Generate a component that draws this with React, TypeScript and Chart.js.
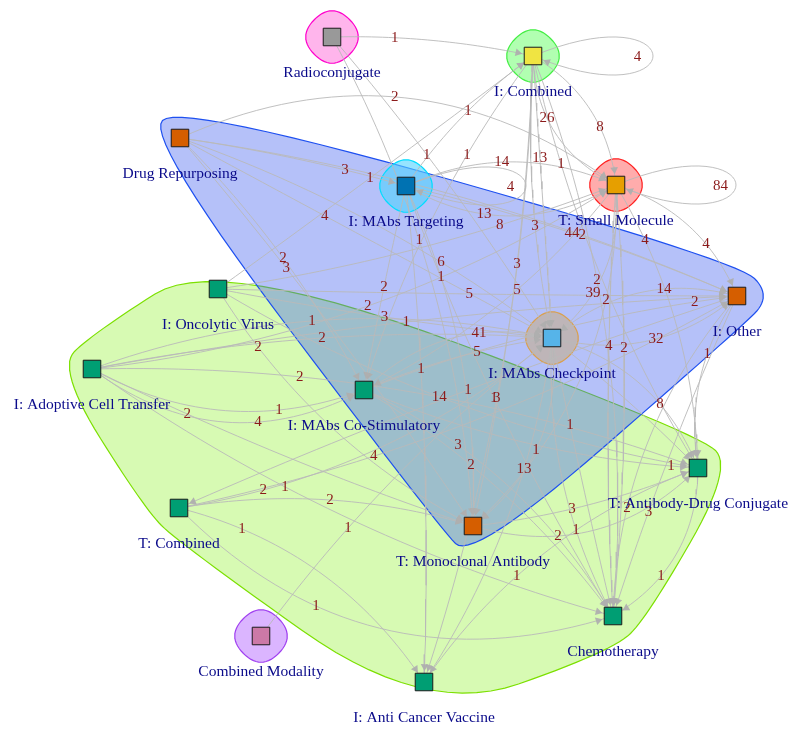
import React, { useEffect, useRef } from "react";
import { Chart, registerables } from "chart.js";

Chart.register(...registerables);

// ---------------- data ----------------
const nodeNames = [
  "Radioconjugate", "I: Combined", "Drug Repurposing", "I: MAbs Targeting",
  "T: Small Molecule", "I: Other", "I: Oncolytic Virus", "I: MAbs Checkpoint",
  "I: Adoptive Cell Transfer", "I: MAbs Co-Stimulatory", "T: Antibody-Drug Conjugate",
  "T: Combined", "T: Monoclonal Antibody", "Chemotherapy", "Combined Modality",
  "I: Anti Cancer Vaccine",
];
// layout coordinates of the nodes
const nodeX = [332, 533, 180, 406, 616, 737, 218, 552, 92, 364, 698, 179, 473, 613, 261, 424];
const nodeY = [37, 56, 138, 186, 185, 296, 289, 338, 369, 390, 468, 508, 526, 616, 636, 682];

const edgeFrom = [
  0, 2, 3, 1, 1, 0, 1, 3, 1, 1,
  2, 6, 2, 3, 6, 1, 3, 2, 4, 4,
  0, 2, 2, 2, 3, 1, 1, 4, 4, 7,
  9, 3, 6, 4, 8, 6, 8, 8, 8, 9,
  9, 4, 4, 7, 5, 6, 8, 3, 8, 8,
  8, 6, 5, 3, 1, 7, 7, 9, 7, 9,
  7, 11, 9, 11, 8, 11, 12, 7, 12, 5,
  5, 11, 14, 15, 10, 11,
  1, 4, 3,
];
const edgeTo = [
  1, 4, 1, 4, 4, 7, 9, 4, 7, 10,
  3, 1, 7, 4, 4, 7, 5, 5, 10, 5,
  12, 9, 12, 10, 12, 12, 13, 7, 12, 5,
  5, 9, 5, 9, 4, 7, 5, 7, 7, 7,
  7, 13, 13, 5, 10, 12, 10, 15, 9, 9,
  12, 10, 11, 13, 15, 10, 13, 13, 12, 13,
  15, 5, 10, 7, 13, 12, 10, 13, 10, 13,
  13, 15, 7, 10, 13, 13,
  1, 4, 3,
];
const edgeWeight = [
  1, 2, 1, 26, 8, 1, 1, 14, 13, 1,
  3, 1, 4, 13, 8, 3, 44, 2, 4, 4,
  1, 2, 3, 6, 1, 3, 2, 39, 2, 14,
  2, 2, 5, 5, 2, 3, 1, 1, 2, 41,
  5, 4, 2, 32, 1, 2, 2, 1, 1, 4,
  2, 14, 1, 1, 3, 8, 1, 3, 1, 2,
  13, 4, 1, 2, 1, 2, 3, 1, 2, 2,
  3, 1, 1, 1, 1, 1,
  4, 84, 4,
];

const groupBlue = [2, 5, 12];
const groupGreen = [6, 8, 9, 10, 11, 13, 15];
const singleGroups = [0, 1, 3, 4, 7, 14];

// ---------------- styles ----------------
const edgeBend = [
  0.06, 0.292, 0.089, -0.299, 0.249, 0.039, -0.088, 0.225, 0, -0.085,
  0.033, -0.006, 0, -0.29, -0.055, -0.069, 0.044, 0.069, 0.129, 0.232,
  0.11, 0.08, 0.029, 0.116, 0.12, 0.045, 0.116, 0.273, 0.228, 0.261,
  0.06, -0.011, -0.006, 0.118, -0.115, -0.021, 0.035, 0.144, 0.067, 0.272,
  0.07, -0.03, 0.045, -0.254, -0.2, -0.138, 0.094, 0.036, -0.229, -0.313,
  -0.034, -0.093, -0.026, -0.053, 0.073, 0.249, -0.009, 0.154, 0.283, 0.102,
  0.115, -0.078, -0.085, -0.139, -0.087, 0.117, -0.072, -0.142, -0.295, -0.177,
  -0.03, 0.193, 0.071, 0.158, 0.282, -0.305,
  0, 0, 0,
];
const edgeLabelAt = [
  0.31, 0.477, 0.534, 0.389, 0.626, 0.405, 0.316, 0.457, 0.361, 0.25,
  0.727, 0.48, 0.389, 0.371, 0.702, 0.6, 0.494, 0.714, 0.207, 0.646,
  0.431, 0.505, 0.345, 0.467, 0.277, 0.44, 0.408, 0.654, 0.297, 0.633,
  0.89, 0.496, 0.484, 0.44, 0.506, 0.5, 0.489, 0.483, 0.502, 0.646,
  0.61, 0.374, 0.378, 0.533, 0.358, 0.198, 0.336, 0.37, 0.695, 0.622,
  0.255, 0.478, 0.477, 0.48, 0.54, 0.637, 0.312, 0.317, 0.537, 0.386,
  0.361, 0.336, 0.922, 0.205, 0.39, 0.51, 0.431, 0.677, 0.343, 0.692,
  0.68, 0.211, 0.331, 0.398, 0.657, 0.35,
  0.5, 0.5, 0.5,
];
const nodeColors = [
  "#999999", "#F0E442", "#D55E00", "#0072B2", "#E69F00", "#D55E00", "#009E73", "#56B4E9",
  "#009E73", "#009E73", "#009E73", "#009E73", "#D55E00", "#009E73", "#CC79A7", "#009E73",
];
const singleFill = [
  "rgba(255,120,220,0.55)", "rgba(100,255,100,0.5)", "rgba(80,210,255,0.6)",
  "rgba(255,90,90,0.5)", "rgba(200,170,120,0.5)", "rgba(190,120,255,0.55)",
];
const singleBorder = ["#FF00CC", "#44EE44", "#00DDFF", "#FF2222", "#D9A050", "#A040F0"];

const W = 793;
const H = 731;
const EXPAND = 35;
const EDGE_COLOR = "rgba(185,185,185,0.9)";

type P = { x: number; y: number };

function nodePt(i: number): P {
  return { x: nodeX[i], y: nodeY[i] };
}

function quad(a: P, c: P, b: P, t: number): P {
  const u = 1 - t;
  return { x: u * u * a.x + 2 * u * t * c.x + t * t * b.x, y: u * u * a.y + 2 * u * t * c.y + t * t * b.y };
}
function cubic(a: P, c1: P, c2: P, b: P, t: number): P {
  const u = 1 - t;
  return {
    x: u * u * u * a.x + 3 * u * u * t * c1.x + 3 * u * t * t * c2.x + t * t * t * b.x,
    y: u * u * u * a.y + 3 * u * u * t * c1.y + 3 * u * t * t * c2.y + t * t * t * b.y,
  };
}

function isLoop(i: number) {
  return edgeFrom[i] === edgeTo[i];
}

function loopCtrl(i: number) {
  const c = nodePt(edgeFrom[i]);
  return { c, c1: { x: c.x + 160, y: c.y - 66 }, c2: { x: c.x + 160, y: c.y + 66 } };
}

function edgeCtrl(i: number) {
  const a = nodePt(edgeFrom[i]);
  const b = nodePt(edgeTo[i]);
  const dx = b.x - a.x, dy = b.y - a.y;
  const len = Math.hypot(dx, dy);
  const nx = dy / len, ny = -dx / len;
  const k = edgeBend[i] * len;
  const p = { x: (a.x + b.x) / 2 + k * nx, y: (a.y + b.y) / 2 + k * ny };
  return { a, b, p };
}

function edgePoints(i: number): P[] {
  const pts: P[] = [];
  const N = 36;
  if (isLoop(i)) {
    const { c, c1, c2 } = loopCtrl(i);
    for (let s = 0; s <= N; s++) pts.push(cubic(c, c1, c2, c, s / N));
  } else {
    const { a, b, p } = edgeCtrl(i);
    for (let s = 0; s <= N; s++) pts.push(quad(a, p, b, s / N));
  }
  return pts;
}

function edgeLabelPoint(i: number): P {
  if (isLoop(i)) {
    const { c, c1, c2 } = loopCtrl(i);
    const tip = cubic(c, c1, c2, c, 0.5);
    return { x: c.x + (tip.x - c.x) * 0.87, y: c.y + 1 };
  }
  const { a, b, p } = edgeCtrl(i);
  return quad(a, p, b, edgeLabelAt[i]);
}

function arrowOf(i: number) {
  let tgt: P, from: P;
  if (isLoop(i)) {
    const { c, c2 } = loopCtrl(i);
    tgt = c; from = c2;
  } else {
    const { b, p } = edgeCtrl(i);
    tgt = b; from = p;
  }
  const dx = tgt.x - from.x, dy = tgt.y - from.y;
  const l = Math.hypot(dx, dy);
  const ux = dx / l, uy = dy / l;
  const back = 15.5;
  return {
    pt: { x: tgt.x - ux * back, y: tgt.y - uy * back },
    rot: (Math.atan2(ux, -uy) * 180) / Math.PI,
  };
}

function convexHull(pts: P[]): P[] {
  const s = pts.slice().sort((p, q) => (p.x === q.x ? p.y - q.y : p.x - q.x));
  const cross = (o: P, a: P, b: P) => (a.x - o.x) * (b.y - o.y) - (a.y - o.y) * (b.x - o.x);
  const lower: P[] = [];
  for (const p of s) {
    while (lower.length >= 2 && cross(lower[lower.length - 2], lower[lower.length - 1], p) <= 0) lower.pop();
    lower.push(p);
  }
  const upper: P[] = [];
  for (let i = s.length - 1; i >= 0; i--) {
    const p = s[i];
    while (upper.length >= 2 && cross(upper[upper.length - 2], upper[upper.length - 1], p) <= 0) upper.pop();
    upper.push(p);
  }
  upper.pop();
  lower.pop();
  return lower.concat(upper);
}

function groupShape(members: number[]): P[] {
  const pts: P[] = [];
  for (const m of members) {
    const c = nodePt(m);
    pts.push(c, { x: c.x - EXPAND, y: c.y }, { x: c.x + EXPAND, y: c.y }, { x: c.x, y: c.y - EXPAND }, { x: c.x, y: c.y + EXPAND });
  }
  const h = convexHull(pts);
  const n = h.length;
  const out: P[] = [];
  const steps = 14;
  for (let i = 0; i < n; i++) {
    const p0 = h[(i - 1 + n) % n], p1 = h[i], p2 = h[(i + 1) % n];
    const a = { x: (p0.x + p1.x) / 2, y: (p0.y + p1.y) / 2 };
    const b = { x: (p1.x + p2.x) / 2, y: (p1.y + p2.y) / 2 };
    for (let s = 0; s < steps; s++) out.push(quad(a, p1, b, s / steps));
  }
  out.push(out[0]);
  return out;
}

const labelPlugin = {
  id: "netLabels",
  afterDatasetsDraw(chart: any) {
    const ctx = chart.ctx as CanvasRenderingContext2D;
    const xs = chart.scales.x;
    const ys = chart.scales.y;
    ctx.save();
    ctx.textAlign = "center";
    ctx.textBaseline = "middle";
    ctx.font = '15px "Liberation Serif", "Times New Roman", serif';
    ctx.fillStyle = "#8B1A1A";
    for (let i = 0; i < edgeWeight.length; i++) {
      const p = edgeLabelPoint(i);
      ctx.fillText(String(edgeWeight[i]), xs.getPixelForValue(p.x), ys.getPixelForValue(p.y));
    }
    ctx.font = '15.5px "Liberation Serif", "Times New Roman", serif';
    ctx.fillStyle = "#0A0A8A";
    for (let i = 0; i < nodeNames.length; i++) {
      ctx.fillText(nodeNames[i], xs.getPixelForValue(nodeX[i]), ys.getPixelForValue(nodeY[i]) + 36);
    }
    ctx.restore();
  },
};

export default function App() {
  const ref = useRef<HTMLCanvasElement | null>(null);

  useEffect(() => {
    document.body.style.margin = "0";
    document.body.style.overflow = "hidden";
    const canvas = ref.current;
    if (!canvas) return;

    const datasets: any[] = [];

    datasets.push({
      type: "line",
      data: groupShape(groupGreen),
      fill: "shape",
      backgroundColor: "rgba(130,240,20,0.32)",
      borderColor: "#7CE000",
      borderWidth: 1.2,
      pointRadius: 0,
      tension: 0,
      order: 100,
    });
    datasets.push({
      type: "line",
      data: groupShape(groupBlue),
      fill: "shape",
      backgroundColor: "rgba(70,100,240,0.4)",
      borderColor: "#1E50F0",
      borderWidth: 1.2,
      pointRadius: 0,
      tension: 0,
      order: 99,
    });
    singleGroups.forEach((g, k) => {
      datasets.push({
        type: "line",
        data: groupShape([g]),
        fill: "shape",
        backgroundColor: singleFill[k],
        borderColor: singleBorder[k],
        borderWidth: 1.2,
        pointRadius: 0,
        tension: 0,
        order: 90,
      });
    });
    for (let i = 0; i < edgeWeight.length; i++) {
      datasets.push({
        type: "line",
        data: edgePoints(i),
        fill: false,
        borderColor: EDGE_COLOR,
        borderWidth: 1,
        pointRadius: 0,
        tension: 0,
        order: 50,
      });
    }
    const arrows = edgeWeight.map((_, i) => arrowOf(i));
    datasets.push({
      type: "scatter",
      data: arrows.map((a) => a.pt),
      pointStyle: "triangle",
      pointRadius: 4.5,
      pointRotation: arrows.map((a) => a.rot),
      pointBackgroundColor: "rgba(175,175,175,0.95)",
      pointBorderWidth: 0,
      order: 10,
    });
    datasets.push({
      type: "scatter",
      data: nodeX.map((x, i) => ({ x, y: nodeY[i] })),
      pointStyle: "rect",
      pointRadius: 12.4,
      pointBackgroundColor: nodeColors,
      pointBorderColor: "#1A1A1A",
      pointBorderWidth: 1,
      order: 0,
    });

    const chart = new Chart(canvas, {
      type: "scatter",
      data: { datasets },
      options: {
        animation: false,
        responsive: false,
        maintainAspectRatio: false,
        events: [],
        layout: { padding: 0, autoPadding: false },
        scales: {
          x: { type: "linear", min: 0, max: W, display: false },
          y: { type: "linear", min: 0, max: H, reverse: true, display: false },
        },
        plugins: {
          legend: { display: false },
          tooltip: { enabled: false },
        },
      },
      plugins: [labelPlugin],
    } as any);

    return () => chart.destroy();
  }, []);

  return (
    <div style={{ width: W, height: H, background: "#ffffff" }}>
      <canvas ref={ref} width={W} height={H} style={{ display: "block" }} />
    </div>
  );
}
